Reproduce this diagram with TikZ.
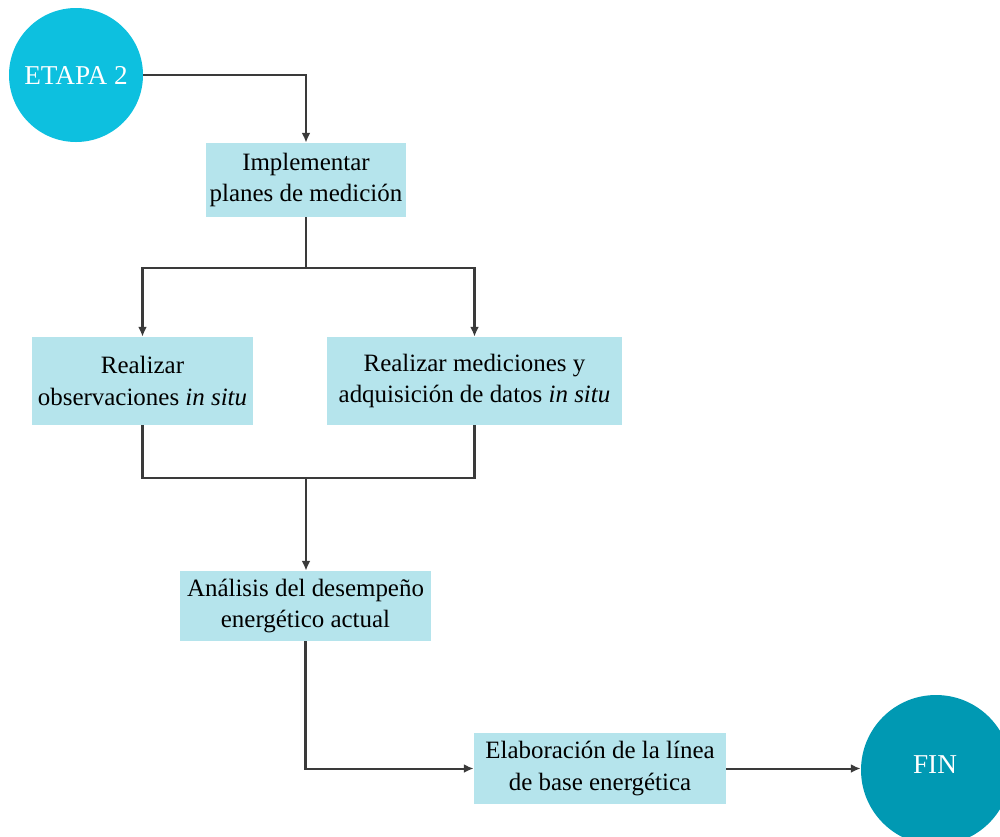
\documentclass[tikz,border=0pt]{standalone}
\usepackage{fontspec}
\setmainfont{Liberation Serif}
\usetikzlibrary{arrows.meta}
\definecolor{startcyan}{HTML}{0DC0DF}
\definecolor{endteal}{HTML}{0099B3}
\definecolor{boxfill}{HTML}{B5E4EC}
\definecolor{linegray}{HTML}{3A3A3A}
\begin{document}
\begin{tikzpicture}[x=0.02cm,y=-0.02cm,
  every node/.style={font=\fontsize{14.2}{18.2}\selectfont},
  stage/.style={circle,fill=#1,text=white,inner sep=0pt,font=\fontsize{15.5}{18}\selectfont},
  task/.style={fill=boxfill,align=center,inner sep=0pt,text=black},
  link/.style={draw=linegray,line width=1.15pt},
  arrowlink/.style={link,-{Latex[length=5.5pt,width=5pt]}}
]
\useasboundingbox (0,0) rectangle (1000,836);
\clip (0,0) rectangle (1000,836);

% start and end markers
\node[stage=startcyan,minimum size=134*0.02cm] (start) at (76,75) {ETAPA 2};
\node[stage=endteal,minimum size=150*0.02cm] (fin) at (936,770) {};
\node[text=white,font=\fontsize{15.5}{18}\selectfont] (finlabel) at (935,765) {FIN};

% process steps
\node[task,minimum width=200*0.02cm,minimum height=74*0.02cm] (plan) at (306,180)
  {Implementar\\planes de medición};
\node[task,minimum width=221*0.02cm,minimum height=88*0.02cm] (obs) at (142.5,381)
  {Realizar\\observaciones \textit{in situ}};
\node[task,minimum width=295*0.02cm,minimum height=88*0.02cm] (meas) at (474.5,381)
  {Realizar mediciones y\\adquisición de datos \textit{in situ}};
\node[task,minimum width=251*0.02cm,minimum height=70*0.02cm] (anal) at (305.5,606)
  {Análisis del desempeño\\energético actual};
\node[task,minimum width=252*0.02cm,minimum height=71*0.02cm] (base) at (600,768.5)
  {Elaboración de la línea\\de base energética};

% branch and merge points
\coordinate (split) at (306,268);
\coordinate (merge) at (306,478);

% connectors
\draw[arrowlink] (start.east) -| (plan.north);
\draw[link] (plan.south) -- (split);
\draw[arrowlink] (split) -| (obs.north);
\draw[arrowlink] (split) -| (meas.north);
\draw[link] (obs.south) |- (merge);
\draw[link] (meas.south) |- (merge);
\draw[arrowlink] (merge) -- (merge |- anal.north);
\draw[arrowlink] (anal.south) |- (base.west);
\draw[arrowlink] (base.east) -- (base.east -| fin.west);
\end{tikzpicture}
\end{document}
